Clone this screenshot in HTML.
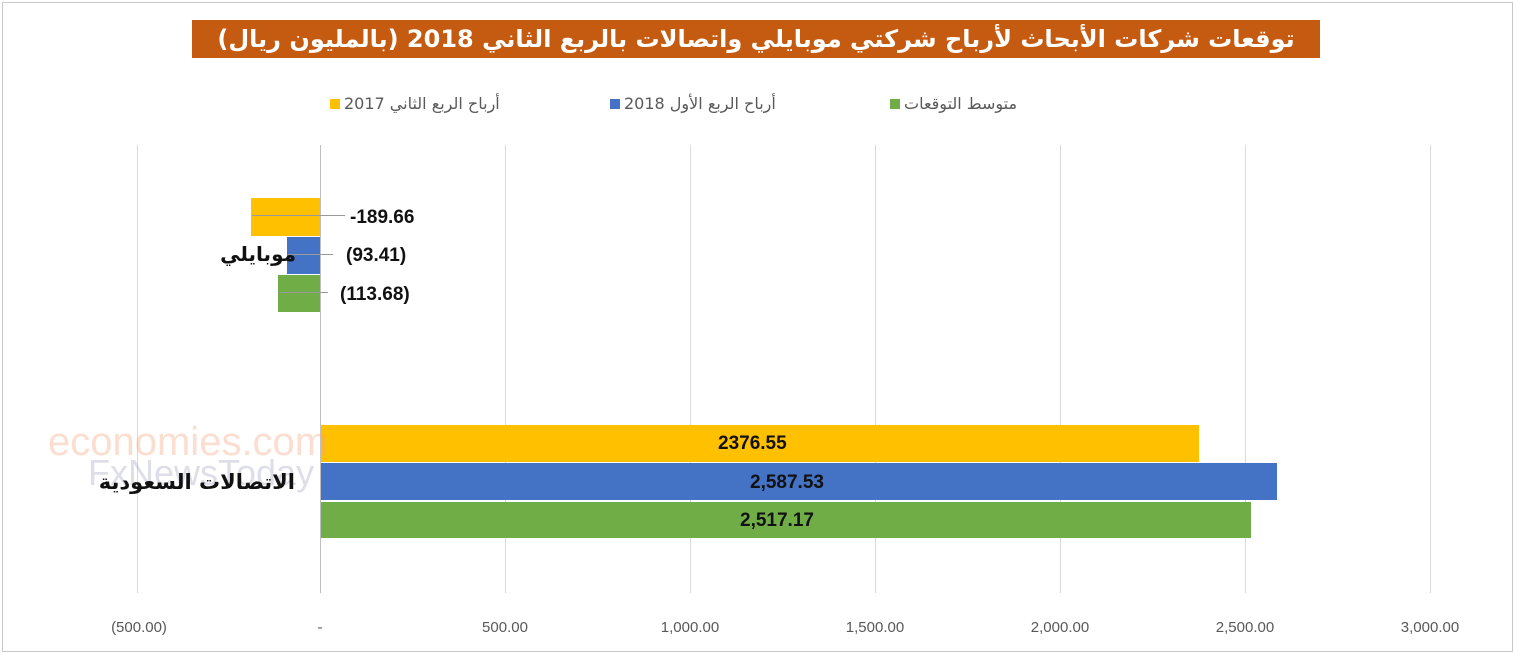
<!DOCTYPE html>
<html><head><meta charset="utf-8"><style>
body{margin:0;background:#fff;}
.w{position:relative;width:1515px;height:654px;overflow:hidden;font-family:"Liberation Sans","DejaVu Sans",sans-serif;}
.a{position:absolute;}
.g{position:absolute;top:145px;height:448px;width:1px;background:#d9d9d9;}
.b{position:absolute;}
.t{position:absolute;font-size:15px;color:#595959;top:619px;width:120px;text-align:center;}
.d{position:absolute;font-weight:bold;font-size:19px;color:#111;}
.lg{position:absolute;top:94px;font-size:16px;color:#595959;}
.lg i{display:inline-block;width:10px;height:10px;margin-right:4px;}
.lg span{direction:rtl;unicode-bidi:embed;font-family:'DejaVu Sans',sans-serif;}
</style></head><body><div class="w">
<div class="a" style="left:2px;top:2px;width:1509px;height:648px;border:1px solid #c8c8c8;"></div>
<div class="a" style="left:192px;top:20px;width:1128px;height:38px;background:#c55a11;color:#fff;font-weight:bold;font-size:24px;line-height:38px;text-align:center;direction:rtl;font-family:'DejaVu Sans',sans-serif;">توقعات شركات الأبحاث لأرباح شركتي موبايلي واتصالات بالربع الثاني 2018 (بالمليون ريال)</div>
<div class="lg" style="left:330px"><i style="background:#ffc000"></i><span>أرباح الربع الثاني 2017</span></div>
<div class="lg" style="left:610px"><i style="background:#4472c4"></i><span>أرباح الربع الأول 2018</span></div>
<div class="lg" style="left:890px"><i style="background:#70ad47"></i><span>متوسط التوقعات</span></div>
<div class="g" style="left:137px"></div><div class="g" style="left:320px;background:#bfbfbf"></div><div class="g" style="left:505px"></div><div class="g" style="left:690px"></div><div class="g" style="left:875px"></div><div class="g" style="left:1060px"></div><div class="g" style="left:1245px"></div><div class="g" style="left:1430px"></div>
<div class="b" style="left:251px;top:198px;width:69px;height:38px;background:#ffc000"></div>
<div class="b" style="left:287px;top:237px;width:33px;height:37px;background:#4472c4"></div>
<div class="b" style="left:278px;top:275px;width:42px;height:37px;background:#70ad47"></div>
<div class="a" style="left:252px;top:215px;width:93px;height:1px;background:#999"></div>
<div class="a" style="left:288px;top:254px;width:45px;height:1px;background:#999"></div>
<div class="a" style="left:280px;top:292px;width:48px;height:1px;background:#999"></div>
<div class="d" style="left:350px;top:207px">-189.66</div>
<div class="d" style="left:346px;top:245px">(93.41)</div>
<div class="d" style="left:340px;top:284px">(113.68)</div>
<div class="d" style="left:200px;top:242px;width:96px;text-align:right;font-size:20px;font-family:'DejaVu Sans',sans-serif;direction:rtl;">موبايلي</div>
<div class="b" style="left:321px;top:425px;width:878px;height:37px;background:#ffc000"></div>
<div class="b" style="left:321px;top:463px;width:956px;height:37px;background:#4472c4"></div>
<div class="b" style="left:321px;top:502px;width:930px;height:36px;background:#70ad47"></div>
<div class="d" style="left:718px;top:433px">2376.55</div>
<div class="d" style="left:750px;top:472px">2,587.53</div>
<div class="d" style="left:740px;top:510px">2,517.17</div>
<div class="a" style="left:48px;top:420px;font-size:40px;color:rgba(244,160,120,0.35);">economies.com</div>
<div class="a" style="left:88px;top:452px;font-size:36px;color:rgba(160,160,190,0.35);">FxNewsToday</div>
<div class="d" style="left:55px;top:470px;width:240px;text-align:right;font-size:21px;font-family:'DejaVu Sans',sans-serif;direction:rtl;">الاتصالات السعودية</div>
<div class="t" style="left:79px">(500.00)</div>
<div class="t" style="left:260px">-</div>
<div class="t" style="left:445px">500.00</div>
<div class="t" style="left:630px">1,000.00</div>
<div class="t" style="left:815px">1,500.00</div>
<div class="t" style="left:1000px">2,000.00</div>
<div class="t" style="left:1185px">2,500.00</div>
<div class="t" style="left:1370px">3,000.00</div>
</div></body></html>
